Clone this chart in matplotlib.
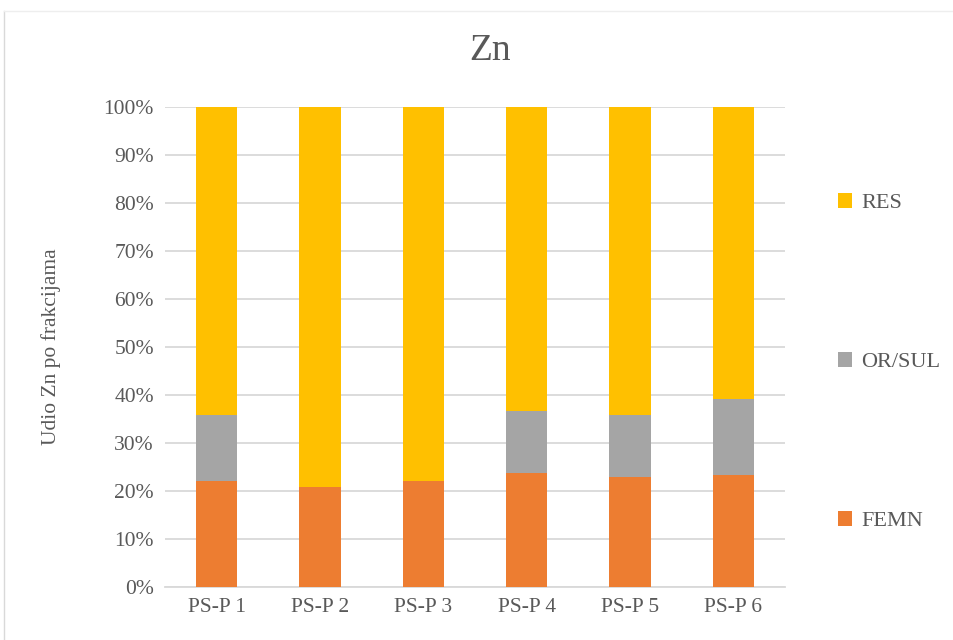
import numpy as np
import matplotlib.pyplot as plt
from matplotlib.lines import Line2D
from matplotlib.ticker import PercentFormatter

plt.rcParams['font.family'] = ['Liberation Serif', 'DejaVu Serif']

# data (shares in %)
samples = ['PS-P 1', 'PS-P 2', 'PS-P 3', 'PS-P 4', 'PS-P 5', 'PS-P 6']
femn = [22.1, 20.8, 22.1, 23.7, 22.9, 23.3]
orsul = [13.7, 0.0, 0.0, 12.9, 12.9, 15.8]
res = [100 - a - b for a, b in zip(femn, orsul)]

c_femn = '#ED7D31'
c_orsul = '#A5A5A5'
c_res = '#FFC000'
txt = '#595959'

fig = plt.figure(figsize=(9.54, 6.4), dpi=100)
ax = fig.add_axes([0.173, 0.083, 0.65, 0.750])

x = np.arange(len(samples))
w = 0.4
b1 = ax.bar(x, femn, w, color=c_femn, label='FEMN', zorder=3)
b2 = ax.bar(x, orsul, w, bottom=femn, color=c_orsul, label='OR/SUL', zorder=3)
bottom2 = [a + b for a, b in zip(femn, orsul)]
b3 = ax.bar(x, res, w, bottom=bottom2, color=c_res, label='RES', zorder=3)

ax.set_xlim(-0.5, len(samples) - 0.5)
ax.set_ylim(0, 100)
ax.set_yticks(np.arange(0, 101, 10))
ax.yaxis.set_major_formatter(PercentFormatter(decimals=0))
ax.set_xticks(x)
ax.set_xticklabels(samples)
ax.grid(axis='y', color='#D9D9D9', linewidth=1.3, zorder=0)
for s in ['top', 'right', 'left']:
    ax.spines[s].set_visible(False)
ax.spines['bottom'].set_color('#D9D9D9')
ax.spines['bottom'].set_linewidth(1.3)
ax.tick_params(length=0, labelsize=15.5, colors=txt, pad=8)
ax.set_ylabel('Udio Zn po frakcijama', fontsize=15.5, color=txt, labelpad=31)
ax.set_title('Zn', fontsize=27, color=txt, pad=34, x=0.524)

leg = fig.legend(handles=[b3, b2, b1], labels=['RES', 'OR/SUL', 'FEMN'],
                 loc='center left', bbox_to_anchor=(0.857, 0.434),
                 frameon=False, fontsize=16, labelspacing=6.25,
                 handlelength=0.65, handleheight=0.65, handletextpad=0.4)
for t in leg.get_texts():
    t.set_color(txt)

# outer chart border
fig.add_artist(Line2D([4/954, 4/954], [0, 1 - 11/640], color='#D9D9D9', lw=1))
fig.add_artist(Line2D([4/954, 1], [1 - 11/640, 1 - 11/640], color='#EEEEEE', lw=1))

fig.savefig('out.png', dpi=100)
